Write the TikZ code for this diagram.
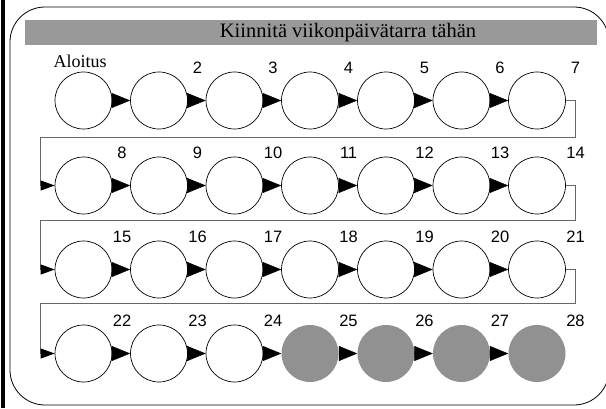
\documentclass[tikz,border=0pt]{standalone}
\usepackage{fontspec}
\setmainfont{Liberation Serif}
\newfontfamily\numfont{Liberation Sans}
\usetikzlibrary{arrows.meta}
\tikzset{
	day/.style={circle, draw=black, line width=0.7pt, fill=white, minimum size=57pt, inner sep=0pt},
	done/.style={circle, fill=black!43, minimum size=57pt, inner sep=0pt},
	num/.style={font=\numfont\fontsize{16.5}{16.5}\selectfont, anchor=center, label distance=21.5pt},
	lbl/.style={font=\fontsize{18}{18}\selectfont, anchor=center, label distance=10pt},
	flow/.style={line width=0.5pt, -{Triangle[length=18.5pt, width=15pt]}},
	link/.style={draw=black!60, line width=0.9pt, -{Triangle[length=14pt, width=10pt, color=black]}}
}

\begin{document}
\begin{tikzpicture}[x=1pt, y=1pt]
		%%%%% START %%%%%
		\useasboundingbox (0, 0) rectangle (606, 408);
		\clip (0, 0) rectangle (606, 408);
		
		\fill[black] (1, 0) rectangle (4.5, 408);
		\draw[line width=0.8pt, rounded corners=35pt] (10, 3) rectangle (609, 401);
		
		\fill[black!40] (25, 363) rectangle (597, 388);
		\node[font=\fontsize{20.5}{24}\selectfont] (title) at (348, 375.5) {Kiinnitä viikonpäivätarra tähän};
		
		% row 1
		\node[day, label={[lbl]95:Aloitus}] (c1) at (83.5, 307.5) {};
		\node[day, label={[num]40:2}] (c2) at (159, 307.5) {};
		\node[day, label={[num]40:3}] (c3) at (234.5, 307.5) {};
		\node[day, label={[num]40:4}] (c4) at (310, 307.5) {};
		\node[day, label={[num]40:5}] (c5) at (386, 307.5) {};
		\node[day, label={[num]40:6}] (c6) at (461.5, 307.5) {};
		\node[day, label={[num]40:7}] (c7) at (537, 307.5) {};
		
		% row 2
		\node[day, label={[num]40:8}] (c8) at (83.5, 222.5) {};
		\node[day, label={[num]40:9}] (c9) at (159, 222.5) {};
		\node[day, label={[num]40:10}] (c10) at (234.5, 222.5) {};
		\node[day, label={[num]40:11}] (c11) at (310, 222.5) {};
		\node[day, label={[num]40:12}] (c12) at (386, 222.5) {};
		\node[day, label={[num]40:13}] (c13) at (461.5, 222.5) {};
		\node[day, label={[num]40:14}] (c14) at (537, 222.5) {};
		
		% row 3
		\node[day, label={[num]40:15}] (c15) at (83.5, 138.5) {};
		\node[day, label={[num]40:16}] (c16) at (159, 138.5) {};
		\node[day, label={[num]40:17}] (c17) at (234.5, 138.5) {};
		\node[day, label={[num]40:18}] (c18) at (310, 138.5) {};
		\node[day, label={[num]40:19}] (c19) at (386, 138.5) {};
		\node[day, label={[num]40:20}] (c20) at (461.5, 138.5) {};
		\node[day, label={[num]40:21}] (c21) at (537, 138.5) {};
		
		% row 4
		\node[day, label={[num]40:22}] (c22) at (83.5, 54.5) {};
		\node[day, label={[num]40:23}] (c23) at (159, 54.5) {};
		\node[day, label={[num]40:24}] (c24) at (234.5, 54.5) {};
		\node[done, label={[num]40:25}] (c25) at (310, 54.5) {};
		\node[done, label={[num]40:26}] (c26) at (386, 54.5) {};
		\node[done, label={[num]40:27}] (c27) at (461.5, 54.5) {};
		\node[done, label={[num]40:28}] (c28) at (537, 54.5) {};
		
		% turns between rows
		\coordinate (r1) at (575, 271);
		\coordinate (l1) at (40, 271);
		\coordinate (r2) at (575, 188);
		\coordinate (l2) at (40, 188);
		\coordinate (r3) at (575, 105);
		\coordinate (l3) at (40, 105);
		
		\draw[link] (c7.east) -| (r1) -- (l1) |- (c8.west);
		\draw[link] (c14.east) -| (r2) -- (l2) |- (c15.west);
		\draw[link] (c21.east) -| (r3) -- (l3) |- (c22.west);
		
		\draw[flow] (c1) -- (c2);
		\draw[flow] (c2) -- (c3);
		\draw[flow] (c3) -- (c4);
		\draw[flow] (c4) -- (c5);
		\draw[flow] (c5) -- (c6);
		\draw[flow] (c6) -- (c7);
		
		\draw[flow] (c8) -- (c9);
		\draw[flow] (c9) -- (c10);
		\draw[flow] (c10) -- (c11);
		\draw[flow] (c11) -- (c12);
		\draw[flow] (c12) -- (c13);
		\draw[flow] (c13) -- (c14);
		
		\draw[flow] (c15) -- (c16);
		\draw[flow] (c16) -- (c17);
		\draw[flow] (c17) -- (c18);
		\draw[flow] (c18) -- (c19);
		\draw[flow] (c19) -- (c20);
		\draw[flow] (c20) -- (c21);
		
		\draw[flow] (c22) -- (c23);
		\draw[flow] (c23) -- (c24);
		\draw[flow] (c24) -- (c25);
		\draw[flow] (c25) -- (c26);
		\draw[flow] (c26) -- (c27);
		\draw[flow] (c27) -- (c28);
		
		%%%%% END %%%%%
	\end{tikzpicture}
\end{document}
